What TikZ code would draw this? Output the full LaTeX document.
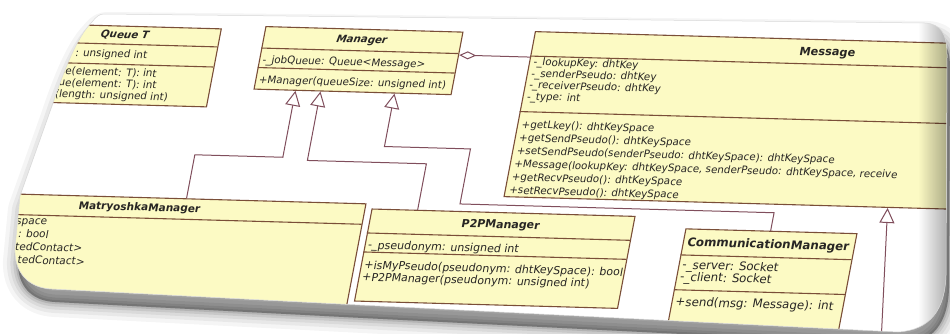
\documentclass[tikz,border=0pt]{standalone}
\usepackage{fontspec}
\setmainfont{DejaVu Sans}
\usetikzlibrary{arrows.meta,fadings}
\definecolor{boxfill}{RGB}{252,250,196}
\definecolor{boxedge}{RGB}{122,78,56}
\definecolor{conn}{RGB}{128,78,92}
\definecolor{txt}{RGB}{40,38,36}
\tikzfading[name=fadetoright, left color=transparent!100, right color=transparent!0]
\tikzset{
  umlbox/.style={draw=boxedge, fill=boxfill, line width=1.1pt, inner sep=0pt, anchor=north west},
  sepline/.style={draw=boxedge, line width=1.1pt},
  member/.style={inner sep=0pt, anchor=base west, text=txt, font=\fontsize{#1}{#1}\selectfont},
  frag/.style={inner sep=0pt, anchor=base east, text=txt, font=\fontsize{#1}{#1}\selectfont},
  ctitle/.style={inner sep=0pt, anchor=base, text=txt, font=\fontsize{#1}{#1}\selectfont\bfseries},
  inh/.style={draw=conn, line width=1pt, -{Triangle[open, length=15pt, width=15pt]}},
  agg/.style={draw=conn, line width=1pt, -{Diamond[open, length=17pt, width=8pt]}},
}
\newcommand\umlrows[6]{\foreach \t [count=\i] in {#6}{\node[member=#2] (#1\i) at (#3,{#4+(\i-1)*#5}) {\t};}}
\def\pagepath{(104,14) -- (925,23) .. controls (941,24) and (947,34) .. (947,55) -- (946,275) .. controls (945,310) and (930,330) .. (898,332) -- (360,305) -- (52,289) .. controls (28,288) and (14,272) .. (15,248) -- (20,196) -- (52,106) .. controls (62,76) and (76,38) .. (92,22) .. controls (96,17) and (99,14) .. (104,14) -- cycle}
\begin{document}
\begin{tikzpicture}[x=1pt,y=-1pt]
\useasboundingbox (0,0) rectangle (950,333);
\fill[white] (0,0) rectangle (950,333);
% page shadow
\begin{scope}[shift={(3,13)}]
  \foreach \w/\o in {30/0.04,22/0.05,15/0.06,9/0.08,4/0.1}{
    \draw[black, opacity=\o, line width=\w pt, line join=round] \pagepath;
    \fill[black, opacity=0.08] \pagepath;}
\end{scope}
\fill[white] \pagepath;
\begin{scope}
\clip \pagepath;
\begin{scope}[cm={1,-0.028,0.19,1,(0,0)}, transform shape]
  % Queue T
  \node[umlbox, minimum width=188pt, minimum height=78pt] (queue) at (37,22) {};
  \draw[sepline] (37,40.6) -- (225,40.6);
  \draw[sepline] (37,60.7) -- (225,60.7);
  \node[ctitle=10.3] (queuetitle) at (131,34.6) {\itshape Queue T};
  \node[frag=10.3] (qa1) at (157,54) {: unsigned int};
  \node[frag=10.3] (qm1) at (170,72.4) {ue(element: T): int};
  \node[frag=10.3] (qm2) at (172,83.9) {ue(element: T): int};
  \node[frag=10.3] (qm3) at (185.5,95.4) {(length: unsigned int)};
  % Manager
  \node[umlbox, minimum width=197pt, minimum height=62.5pt] (manager) at (269,18.5) {};
  \draw[sepline] (269,40.5) -- (466,40.5);
  \draw[sepline] (269,60) -- (466,60);
  \node[ctitle=10.2] (managertitle) at (367.5,32.7) {\itshape Manager};
  \node[member=10.3] (ma1) at (272.5,55.5) {-\_jobQueue: Queue<Message>};
  \node[member=10.3] (mm1) at (272.5,75.7) {+Manager(queueSize: unsigned int)};
  % Message
  \node[umlbox, minimum width=589pt, minimum height=165pt] (message) at (538,16) {};
  \draw[sepline] (538,41) -- (1127,41);
  \draw[sepline] (538,96.5) -- (1127,96.5);
  \node[ctitle=11.3] (messagetitle) at (833,32.5) {Message};
  \umlrows{msga}{10.3}{542.5}{50.4}{11.5}{{-\_lookupKey: dhtKey},{-\_senderPseudo: dhtKey},{-\_receiverPseudo: dhtKey},{-\_type: int}}
  \umlrows{msgm}{10.3}{542.5}{113}{13.1}{{+getLkey(): dhtKeySpace},{+getSendPseudo(): dhtKeySpace},{+setSendPseudo(senderPseudo: dhtKeySpace): dhtKeySpace},{+Message(lookupKey: dhtKeySpace, senderPseudo: dhtKeySpace, receive},{+getRecvPseudo(): dhtKeySpace},{+setRecvPseudo(): dhtKeySpace}}
  % MatryoshkaManager
  \node[umlbox, minimum width=448pt, minimum height=150pt] (matry) at (-46,192) {};
  \draw[sepline] (-46,213) -- (402,213);
  \node[ctitle=10.5] (matrytitle) at (178,205.8) {MatryoshkaManager};
  \node[frag=10.5] (mta1) at (89,222.5) {space};
  \node[frag=10.5] (mta2) at (93,235.5) {: bool};
  \node[frag=10.5] (mta3) at (129,248.5) {tedContact>};
  \node[frag=10.5] (mta4) at (134,261.5) {tedContact>};
  % P2PManager
  \node[umlbox, minimum width=263pt, minimum height=92pt] (p2p) at (409,197) {};
  \draw[sepline] (409,221.5) -- (672,221.5);
  \draw[sepline] (409,240.5) -- (672,240.5);
  \node[ctitle=11] (p2ptitle) at (540.5,213) {P2PManager};
  \node[member=11] (pa1) at (412.5,237.3) {-\_pseudonym: unsigned int};
  \umlrows{pm}{11}{412.5}{257.3}{12}{{+isMyPseudo(pseudonym: dhtKeySpace): bool},{+P2PManager(pseudonym: unsigned int)}}
  % CommunicationManager
  \node[umlbox, minimum width=171pt, minimum height=150pt] (comm) at (725,208) {};
  \draw[sepline] (725,234.6) -- (896,234.6);
  \draw[sepline] (725,269.4) -- (896,269.4);
  \node[ctitle=11.8] (commtitle) at (810.5,225.7) {CommunicationManager};
  \umlrows{ca}{11.8}{729}{248.5}{12}{{-\_server: Socket},{-\_client: Socket}}
  \node[member=11.8] (cm1) at (729,285.4) {+send(msg: Message): int};
  % connectors
  \coordinate (a1) at (311,148.5); \coordinate (b1) at (223,148.5);
  \coordinate (a2) at (336,151);   \coordinate (b2) at (455,151);
  \coordinate (a3) at (410,135);   \coordinate (b3) at (496,135);
  \coordinate (c3) at (496,190);   \coordinate (d3) at (810,190);
  \coordinate (dg) at (500,42);
  \coordinate (mt) at (922,0);
  \coordinate (sub) at (945,345);
  \draw[inh] (matry.north -| b1) -- (b1) -- (a1) -- (manager.south -| a1);
  \draw[inh] (p2p.north -| b2) -- (b2) -- (a2) -- (manager.south -| a2);
  \draw[inh] (comm.north -| d3) -- (d3) -- (c3) -- (b3) -- (a3) -- (manager.south -| a3);
  \draw[agg] (message.west |- dg) -- (manager.east |- dg);
  \draw[inh] (sub) -- (message.south -| mt);
\end{scope}
\fill[black, opacity=0.35, path fading=fadetoright] (918,0) rectangle (950,333);
\end{scope}
\draw[black!15, line width=0.5pt] \pagepath;
\end{tikzpicture}
\end{document}
